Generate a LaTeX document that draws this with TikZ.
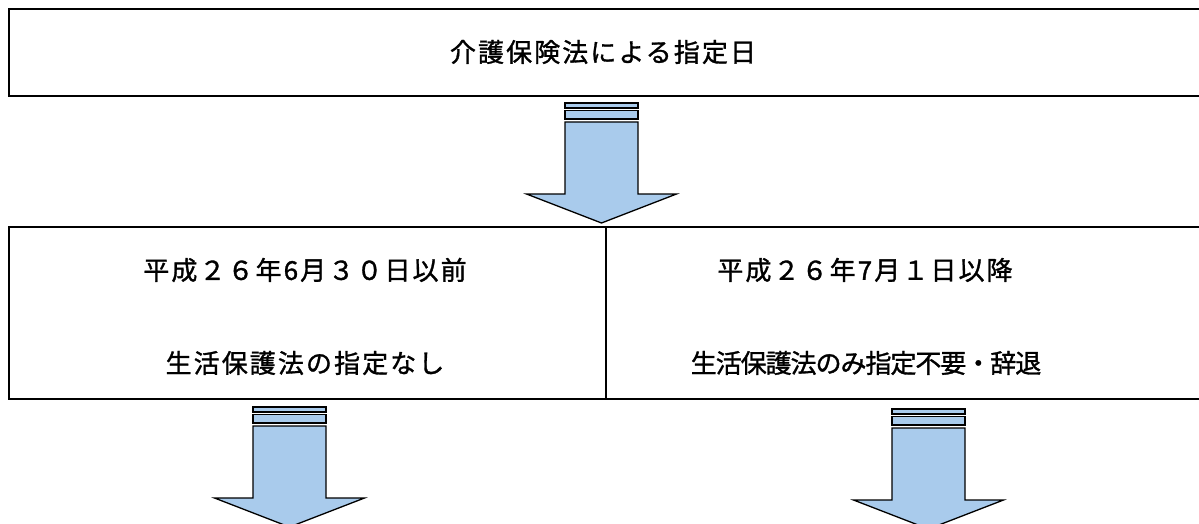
\documentclass[tikz,border=0pt]{standalone}
\usepackage{fontspec}
\newfontfamily\jpfont[LetterSpace=8,FakeBold=1.2]{Noto Sans CJK JP}
\newfontfamily\jpfontnarrow[LetterSpace=-4,FakeBold=1.2]{Noto Sans CJK JP}
\definecolor{arrowfill}{RGB}{169,203,236}
\tikzset{
  boxline/.style={draw=black, line width=2pt},
  label/.style={font=\jpfont\fontsize{26}{30}\selectfont, inner sep=0pt, anchor=center},
  narrowlabel/.style={font=\jpfontnarrow\fontsize{26}{30}\selectfont, inner sep=0pt, anchor=center},
  arrowline/.style={draw=black, line width=1.3pt, fill=arrowfill, line join=miter},
}
\newcommand\myblockarrow[2]{%
  \path[arrowline] (#1-36.5,#2) rectangle (#1+36.5,#2+5);
  \path[arrowline] (#1-36.5,#2+7.5) rectangle (#1+36.5,#2+16);
  \path[arrowline] (#1-36.5,#2+19) -- (#1-36.5,#2+91) -- (#1-75,#2+91) -- (#1,#2+120)
     -- (#1+75,#2+91) -- (#1+36.5,#2+91) -- (#1+36.5,#2+19) -- cycle;
}
\begin{document}
\begin{tikzpicture}[x=1pt,y=-1pt]
  \useasboundingbox (0,0) rectangle (1199,524);
  \clip (0,0) rectangle (1199,524);
  \fill[white] (0,0) rectangle (1199,524);
  % top box
  \node[boxline, rectangle, minimum width=1204pt, minimum height=87pt, anchor=north west, inner sep=0pt] (top) at (8,8) {};
  \node[label] (toptext) at (603,52) {介護保険法による指定日};
  % lower boxes
  \node[boxline, rectangle, minimum width=597pt, minimum height=172pt, anchor=north west, inner sep=0pt] (left) at (8,226) {};
  \node[boxline, rectangle, minimum width=610pt, minimum height=172pt, anchor=north west, inner sep=0pt] (right) at (605,226) {};
  \node[label] (l1) at (305,270) {平成２６年6月３０日以前};
  \node[label] (l2) at (305,363) {生活保護法の指定なし};
  \node[label] (r1) at (865,270) {平成２６年7月１日以降};
  \node[narrowlabel] (r2) at (866,363) {生活保護法のみ指定不要・辞退};
  % arrows
  \myblockarrow{601.5}{103}
  \myblockarrow{289.5}{407}
  \myblockarrow{928.5}{409}
\end{tikzpicture}
\end{document}
